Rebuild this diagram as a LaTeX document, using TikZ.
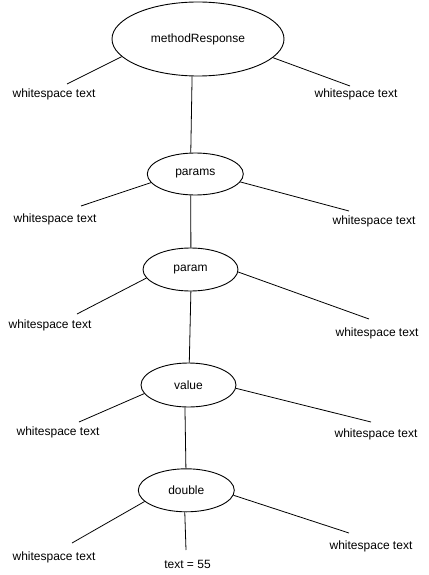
\documentclass[tikz,border=0pt]{standalone}
\usepackage{fontspec}
\setmainfont{Liberation Sans}
\usetikzlibrary{shapes.geometric}
\begin{document}
\begin{tikzpicture}[x=1pt,y=-1pt,
  elem/.style={draw, ellipse, line width=0.9pt, inner sep=0pt, font=\fontsize{12}{14}\selectfont},
  lbl/.style={inner sep=0pt, font=\fontsize{12}{14}\selectfont},
  edge/.style={line width=0.8pt}]
\useasboundingbox (0,0) rectangle (428,575);
% element nodes
\node[elem, minimum width=172pt, minimum height=74pt] (m) at (198,39) {methodResponse};
\node[elem, minimum width=96pt, minimum height=42pt] (p) at (195.3,174) {params};
\node[elem, minimum width=95pt, minimum height=43pt] (pa) at (190.5,269.5) {param};
\node[elem, minimum width=95pt, minimum height=44pt] (v) at (188.5,385) {value};
\node[elem, minimum width=96pt, minimum height=43pt] (d) at (186.3,490.3) {double};
% text labels
\node[lbl] (mL) at (54,94) {whitespace text};
\node[lbl] (mR) at (356,94) {whitespace text};
\node[lbl] (pL) at (55,219) {whitespace text};
\node[lbl] (pR) at (374,221) {whitespace text};
\node[lbl] (paL) at (50,325) {whitespace text};
\node[lbl] (paR) at (377,333) {whitespace text};
\node[lbl] (vL) at (58,432) {whitespace text};
\node[lbl] (vR) at (376,434) {whitespace text};
\node[lbl] (dL) at (54,557) {whitespace text};
\node[lbl] (dM) at (187.5,564) {text = 55};
\node[lbl] (dR) at (371,546) {whitespace text};
% free ends of connectors
\coordinate (cmL) at (67,84);
\coordinate (cmR) at (350,86);
\coordinate (cpL) at (81,206);
\coordinate (cpR) at (349,211);
\coordinate (cpaL) at (77,314);
\coordinate (cpaR) at (369,319);
\coordinate (cvL) at (79,422);
\coordinate (cvR) at (371,422);
\coordinate (cdL) at (72,543);
\coordinate (cdM) at (186,550);
\coordinate (cdR) at (349,533);
% tree edges
\draw[edge] (m.261) -- (p.102);
\draw[edge] (p.258) -- (pa.89);
\draw[edge] (pa.271) -- (v.88);
\draw[edge] (v.261) -- (d.91);
% whitespace edges
\draw[edge] (m.193) -- (cmL);
\draw[edge] (m.346.5) -- (cmR);
\draw[edge] (p.191) -- (cpL);
\draw[edge] (p.350) -- (cpR);
\draw[edge] (pa.191.5) -- (cpaL);
\draw[edge] (pa.357) -- (cpaR);
\draw[edge] (v.191) -- (cvL);
\draw[edge] (v.356) -- (cvR);
\draw[edge] (d.195.5) -- (cdL);
\draw[edge] (d.266) -- (cdM);
\draw[edge] (d.354.5) -- (cdR);
\end{tikzpicture}
\end{document}
